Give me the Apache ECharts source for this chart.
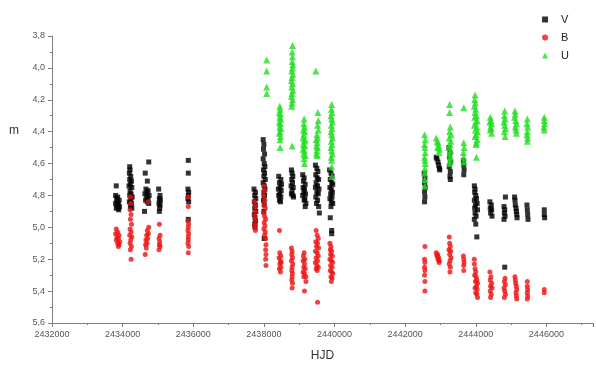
<!DOCTYPE html>
<html>
<head>
<meta charset="utf-8">
<script src="https://cdn.jsdelivr.net/npm/echarts@6/dist/echarts.min.js"></script>
<style>html,body{margin:0;padding:0;background:#fff}#c{width:596px;height:368px}</style>
</head>
<body>
<div id="c"></div>
<script>
const seriesNames = ['V', 'B', 'U'];
const xTicks = [2432000, 2434000, 2436000, 2438000, 2440000, 2442000, 2444000, 2446000];
const yTicks = [3.8, 4.0, 4.2, 4.4, 4.6, 4.8, 5.0, 5.2, 5.4, 5.6];

const vData = [
[2433820,4.74],[2433800,4.80],[2433860,4.81],[2433830,4.82],[2433900,4.83],[2433850,4.84],[2433800,4.85],[2433880,4.85],[2433840,4.86],[2433910,4.87],[2433870,4.88],[2433820,4.88],[2433890,4.89],
[2434200,4.62],[2434210,4.64],[2434190,4.66],[2434230,4.68],[2434200,4.70],[2434250,4.71],[2434220,4.73],[2434180,4.74],[2434260,4.75],[2434210,4.77],[2434240,4.79],[2434200,4.80],[2434270,4.81],[2434230,4.83],[2434190,4.84],[2434250,4.85],[2434220,4.87],[2434260,4.88],
[2434740,4.59],[2434640,4.66],[2434700,4.71],[2434660,4.76],[2434720,4.77],[2434690,4.78],[2434630,4.79],[2434750,4.80],[2434680,4.81],[2434720,4.82],[2434650,4.83],[2434700,4.84],[2434740,4.85],[2434620,4.90],
[2435020,4.76],[2435060,4.80],[2435040,4.82],[2435070,4.83],[2435030,4.85],[2435060,4.86],[2435050,4.88],[2435040,4.90],
[2435860,4.58],[2435860,4.66],[2435850,4.76],[2435870,4.78],[2435860,4.80],[2435850,4.82],[2435870,4.84],[2435860,4.95],
[2437720,4.76],[2437760,4.78],[2437740,4.80],[2437770,4.82],[2437730,4.84],[2437760,4.86],[2437740,4.88],[2437770,4.90],[2437730,4.92],[2437750,4.94],[2437760,4.96],[2437740,4.98],[2437750,5.00],
[2437980,4.45],[2438000,4.48],[2437990,4.51],[2438020,4.54],[2437980,4.57],[2438010,4.60],[2438030,4.62],[2437990,4.64],[2438020,4.66],[2438000,4.68],[2438040,4.70],[2437980,4.72],[2438010,4.74],[2438030,4.76],[2438000,4.78],[2438020,4.80],[2437990,4.83],[2438010,4.86],[2438000,4.90],[2438010,5.07],
[2438420,4.68],[2438480,4.70],[2438440,4.72],[2438500,4.73],[2438460,4.75],[2438410,4.76],[2438490,4.77],[2438450,4.79],[2438420,4.80],[2438480,4.81],[2438440,4.83],[2438470,4.84],
[2438780,4.64],[2438800,4.66],[2438820,4.68],[2438790,4.70],[2438810,4.72],[2438770,4.74],[2438830,4.75],[2438800,4.77],[2438780,4.79],[2438820,4.80],[2438840,4.81],
[2439100,4.67],[2439140,4.69],[2439120,4.71],[2439170,4.73],[2439110,4.75],[2439150,4.76],[2439130,4.78],[2439180,4.79],[2439100,4.80],[2439160,4.82],[2439140,4.83],[2439190,4.85],[2439170,4.87],
[2439460,4.61],[2439500,4.63],[2439530,4.65],[2439470,4.67],[2439510,4.69],[2439550,4.70],[2439480,4.72],[2439520,4.74],[2439460,4.75],[2439560,4.76],[2439500,4.78],[2439540,4.79],[2439470,4.81],[2439520,4.83],[2439490,4.85],[2439550,4.87],[2439570,4.91],
[2439860,4.64],[2439900,4.66],[2439930,4.68],[2439880,4.70],[2439920,4.72],[2439950,4.73],[2439870,4.75],[2439910,4.76],[2439940,4.78],[2439890,4.79],[2439930,4.81],[2439870,4.82],[2439910,4.84],[2439950,4.85],[2439900,4.87],[2439880,4.94],[2439920,5.02],[2439920,5.04],
[2442540,4.66],[2442560,4.69],[2442550,4.72],[2442570,4.75],[2442550,4.78],[2442560,4.81],[2442550,4.84],
[2442880,4.56],[2442900,4.57],[2442930,4.59],[2442950,4.61],[2442970,4.63],[2442980,4.64],
[2443240,4.50],[2443270,4.53],[2443260,4.56],[2443290,4.59],[2443250,4.62],[2443280,4.65],[2443270,4.68],[2443280,4.70],
[2443650,4.58],[2443660,4.61],[2443670,4.64],[2443660,4.67],
[2443960,4.74],[2443980,4.76],[2443970,4.78],[2444000,4.80],[2444020,4.82],[2443960,4.83],[2444040,4.85],[2443990,4.86],[2443970,4.88],[2444050,4.89],[2443980,4.91],[2444010,4.93],[2443960,4.95],[2444000,4.98],[2444030,5.06],
[2444400,4.84],[2444440,4.86],[2444410,4.88],[2444450,4.89],[2444420,4.91],[2444460,4.93],
[2444840,4.81],[2444800,4.87],[2444820,4.89],[2444810,4.91],[2444830,4.93],[2444800,4.95],
[2445100,4.81],[2445110,4.83],[2445120,4.86],[2445140,4.88],[2445150,4.90],[2445160,4.92],[2445170,4.94],
[2445450,4.86],[2445460,4.89],[2445470,4.92],[2445480,4.95],
[2445940,4.89],[2445940,4.92],[2445950,4.94],
[2444820,5.25]
];

const bData = [
[2433820,5.01],[2433860,5.03],[2433800,5.04],[2433900,5.05],[2433840,5.06],[2433880,5.07],[2433820,5.08],[2433920,5.09],[2433860,5.10],[2433900,5.11],[2433880,5.12],
[2434220,4.81],[2434230,4.85],[2434210,4.89],[2434240,4.92],[2434220,4.95],[2434250,4.98],[2434210,5.01],[2434240,5.03],[2434200,5.05],[2434260,5.06],[2434230,5.08],[2434210,5.10],[2434250,5.12],[2434220,5.14],[2434240,5.20],
[2434720,4.84],[2434740,5.00],[2434700,5.02],[2434730,5.04],[2434680,5.05],[2434710,5.07],[2434660,5.08],[2434690,5.10],[2434650,5.11],[2434670,5.13],[2434640,5.17],
[2435040,4.98],[2435060,5.05],[2435030,5.07],[2435050,5.09],[2435040,5.11],[2435060,5.12],[2435030,5.14],
[2435860,4.81],[2435860,4.87],[2435850,4.96],[2435870,4.98],[2435860,5.00],[2435850,5.02],[2435870,5.04],[2435860,5.06],[2435860,5.08],[2435850,5.10],[2435870,5.12],[2435860,5.16],
[2437740,4.84],[2437760,4.87],[2437750,4.90],[2437740,4.93],[2437760,4.95],[2437750,4.98],[2437740,5.00],[2437760,5.02],
[2438000,4.74],[2438020,4.77],[2437990,4.80],[2438030,4.83],[2438010,4.86],[2438040,4.88],[2437990,4.91],[2438020,4.93],[2438050,4.95],[2438010,4.97],[2438030,4.99],[2438000,5.01],[2438040,5.03],[2438020,5.05],[2438050,5.07],[2438060,5.11],[2438050,5.14],[2438060,5.17],[2438050,5.20],[2438060,5.24],
[2438440,5.02],[2438450,5.16],[2438480,5.18],[2438430,5.19],[2438470,5.21],[2438490,5.22],[2438450,5.23],[2438480,5.25],[2438440,5.26],[2438470,5.28],
[2438780,5.13],[2438800,5.15],[2438790,5.17],[2438810,5.19],[2438780,5.21],[2438820,5.23],[2438800,5.25],[2438790,5.27],[2438810,5.29],[2438800,5.31],[2438790,5.33],[2438810,5.35],[2438800,5.38],
[2439140,5.16],[2439120,5.18],[2439160,5.20],[2439110,5.21],[2439150,5.23],[2439130,5.25],[2439170,5.26],[2439110,5.28],[2439150,5.29],[2439130,5.31],[2439190,5.31],[2439190,5.34],[2439150,5.40],
[2439480,5.02],[2439510,5.05],[2439540,5.07],[2439470,5.09],[2439520,5.10],[2439490,5.12],[2439550,5.13],[2439460,5.15],[2439510,5.16],[2439540,5.18],[2439480,5.19],[2439520,5.21],[2439460,5.22],[2439500,5.24],[2439540,5.25],[2439480,5.26],[2439510,5.27],[2439520,5.47],
[2439870,5.10],[2439900,5.12],[2439880,5.14],[2439920,5.15],[2439890,5.17],[2439940,5.18],[2439870,5.20],[2439910,5.21],[2439950,5.22],[2439890,5.24],[2439930,5.25],[2439880,5.27],[2439920,5.28],[2439950,5.29],[2439900,5.31],[2439930,5.32],[2439910,5.34],
[2442560,5.12],[2442550,5.20],[2442560,5.22],[2442550,5.25],[2442560,5.27],[2442550,5.30],[2442560,5.34],[2442560,5.40],
[2442880,5.16],[2442920,5.17],[2442900,5.18],[2442950,5.19],[2442930,5.20],[2442970,5.21],[2442960,5.22],
[2443250,5.06],[2443260,5.10],[2443280,5.12],[2443240,5.14],[2443290,5.15],[2443260,5.17],[2443300,5.19],[2443270,5.21],[2443250,5.23],[2443280,5.25],[2443270,5.28],
[2443650,5.18],[2443660,5.20],[2443670,5.22],[2443660,5.24],[2443660,5.27],
[2443960,5.20],[2443960,5.23],[2443980,5.26],[2444000,5.28],[2443970,5.30],[2444010,5.31],[2444030,5.33],[2443990,5.34],[2444050,5.35],[2444020,5.37],[2443980,5.38],[2444040,5.39],[2444000,5.41],[2444030,5.42],[2444050,5.44],
[2444400,5.28],[2444430,5.31],[2444410,5.33],[2444450,5.35],[2444420,5.37],[2444460,5.38],[2444410,5.40],[2444440,5.42],[2444420,5.44],
[2444830,5.32],[2444810,5.34],[2444840,5.36],[2444800,5.38],[2444820,5.40],[2444840,5.42],[2444810,5.44],
[2445110,5.31],[2445120,5.33],[2445130,5.35],[2445150,5.37],[2445160,5.39],[2445140,5.41],[2445150,5.43],[2445160,5.45],
[2445460,5.34],[2445460,5.37],[2445470,5.39],[2445460,5.41],[2445470,5.43],[2445460,5.45],
[2445940,5.39],[2445940,5.41]
];

const uData = [
[2438080,3.95],[2438080,4.02],[2438080,4.12],[2438080,4.16],
[2438450,4.24],[2438460,4.26],[2438440,4.28],[2438470,4.29],[2438450,4.31],[2438480,4.32],[2438440,4.34],[2438470,4.35],[2438450,4.37],[2438480,4.38],[2438460,4.40],[2438440,4.41],[2438470,4.43],[2438460,4.45],[2438460,4.50],
[2438810,3.86],[2438800,3.90],[2438810,3.93],[2438800,3.96],[2438820,3.98],[2438810,4.00],[2438790,4.02],[2438820,4.04],[2438800,4.06],[2438780,4.08],[2438810,4.10],[2438790,4.12],[2438820,4.14],[2438800,4.16],[2438780,4.18],[2438810,4.20],[2438800,4.22],[2438790,4.24],[2438800,4.49],
[2439140,4.32],[2439130,4.35],[2439150,4.37],[2439120,4.39],[2439160,4.40],[2439130,4.42],[2439110,4.44],[2439170,4.45],[2439140,4.46],[2439120,4.48],[2439160,4.49],[2439110,4.51],[2439150,4.52],[2439130,4.54],[2439170,4.55],[2439140,4.57],[2439150,4.60],
[2439470,4.02],[2439530,4.28],[2439540,4.33],[2439520,4.36],[2439540,4.39],[2439500,4.42],[2439520,4.44],[2439480,4.45],[2439510,4.47],[2439490,4.49],[2439520,4.50],[2439500,4.52],[2439490,4.54],[2439510,4.55],
[2439920,4.23],[2439910,4.26],[2439930,4.28],[2439900,4.30],[2439920,4.32],[2439940,4.34],[2439910,4.36],[2439930,4.38],[2439900,4.40],[2439920,4.42],[2439940,4.44],[2439910,4.46],[2439930,4.48],[2439900,4.50],[2439920,4.52],[2439940,4.54],[2439910,4.56],[2439920,4.58],[2439920,4.62],[2439930,4.68],
[2442550,4.42],[2442570,4.45],[2442550,4.48],[2442560,4.50],[2442570,4.53],[2442550,4.56],[2442560,4.58],[2442570,4.60],[2442560,4.63],[2442550,4.66],[2442560,4.70],[2442560,4.74],
[2442880,4.44],[2442910,4.46],[2442930,4.47],[2442950,4.49],[2442920,4.50],[2442970,4.51],[2442960,4.53],
[2443260,4.23],[2443260,4.28],[2443280,4.37],[2443260,4.40],[2443300,4.42],[2443250,4.44],[2443290,4.46],[2443270,4.48],[2443240,4.50],[2443290,4.52],[2443260,4.54],[2443280,4.56],[2443270,4.58],[2443260,4.60],
[2443660,4.25],[2443660,4.47],[2443670,4.50],[2443650,4.53],[2443660,4.56],[2443660,4.59],
[2443980,4.17],[2443970,4.20],[2443990,4.22],[2443960,4.24],[2444000,4.26],[2443980,4.28],[2444020,4.30],[2443970,4.31],[2444040,4.33],[2444000,4.34],[2443960,4.36],[2444030,4.37],[2443990,4.39],[2444050,4.40],[2444010,4.42],[2443980,4.43],[2444040,4.45],[2444020,4.47],[2444010,4.48],[2444020,4.56],
[2444410,4.31],[2444430,4.33],[2444400,4.34],[2444450,4.35],[2444420,4.37],[2444440,4.38],[2444410,4.39],[2444450,4.41],
[2444820,4.27],[2444810,4.30],[2444830,4.32],[2444800,4.34],[2444820,4.36],[2444840,4.38],[2444810,4.40],[2444830,4.43],
[2445110,4.27],[2445120,4.29],[2445100,4.31],[2445130,4.33],[2445150,4.35],[2445120,4.37],[2445140,4.39],[2445150,4.41],
[2445460,4.32],[2445450,4.35],[2445470,4.37],[2445460,4.40],[2445450,4.42],[2445470,4.44],[2445460,4.46],
[2445940,4.31],[2445940,4.33],[2445950,4.35],[2445930,4.37],[2445940,4.39]
];

const chart = echarts.init(document.getElementById('c'), null, {renderer: 'canvas'});
const axisGray = '#808080';
const labelGray = '#555';
chart.setOption({
  animation: false,
  backgroundColor: '#fff',
  textStyle: {fontFamily: 'Liberation Sans, Arial, sans-serif'},
  grid: {left: 52, right: 0, top: 36, bottom: 45},
  legend: {
    orient: 'vertical', right: 22, top: 9, itemGap: 7, itemWidth: 6, itemHeight: 6,
    textStyle: {fontSize: 11, color: '#222', padding: [0, 0, 0, 8]},
    data: [
      {name: seriesNames[0], icon: 'rect'},
      {name: seriesNames[1], icon: 'circle'},
      {name: seriesNames[2], icon: 'triangle'}
    ]
  },
  xAxis: {
    type: 'value', min: xTicks[0], max: 2447320, interval: 2000,
    name: 'HJD', nameLocation: 'middle', nameGap: 27,
    nameTextStyle: {fontSize: 12, color: '#333'},
    axisLine: {show: true, onZero: false, lineStyle: {color: axisGray, width: 1}},
    axisTick: {show: true, length: 4, lineStyle: {color: axisGray}},
    minorTick: {show: true, splitNumber: 2, length: 2, lineStyle: {color: axisGray}},
    splitLine: {show: false},
    axisLabel: {fontSize: 9, color: labelGray, margin: 7,
      formatter: v => (xTicks.indexOf(v) >= 0 ? String(v) : '')}
  },
  yAxis: {
    type: 'value', inverse: true, min: yTicks[0], max: yTicks[yTicks.length - 1], interval: 0.2,
    axisLine: {show: true, lineStyle: {color: axisGray, width: 1}},
    axisTick: {show: true, length: 4, lineStyle: {color: axisGray}},
    minorTick: {show: true, splitNumber: 2, length: 2, lineStyle: {color: axisGray}},
    splitLine: {show: false},
    axisLabel: {fontSize: 9, color: labelGray, margin: 7,
      formatter: v => v.toFixed(1).replace('.', ',')}
  },
  graphic: [{type: 'text', left: 9, top: 125, style: {text: 'm', fontSize: 12, fill: '#333', fontFamily: 'Liberation Sans, Arial, sans-serif'}}],
  series: [
    {name: seriesNames[0], type: 'scatter', data: vData, symbol: 'rect', symbolSize: 5, itemStyle: {color: '#000'}},
    {name: seriesNames[1], type: 'scatter', data: bData, symbol: 'circle', symbolSize: 5, itemStyle: {color: '#ee1111'}},
    {name: seriesNames[2], type: 'scatter', data: uData, symbol: 'triangle', symbolSize: 7, itemStyle: {color: '#22dd22'}}
  ]
});
</script>
</body>
</html>
